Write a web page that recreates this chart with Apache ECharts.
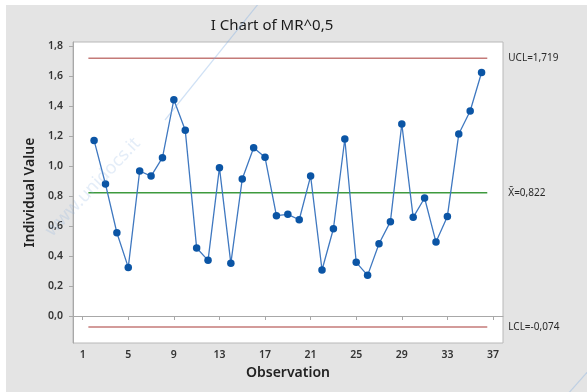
<!DOCTYPE html>
<html>
<head>
<meta charset="utf-8">
<script src="https://cdn.jsdelivr.net/npm/echarts@6/dist/echarts.min.js"></script>
<style>html,body{margin:0;padding:0;background:#fff}#c{width:587px;height:392px}</style>
</head>
<body>
<div id="c"></div>
<script>
// Observations and individual values (MR^0,5)
var observations = [2,3,4,5,6,7,8,9,10,11,12,13,14,15,16,17,18,19,20,21,22,23,24,25,26,27,28,29,30,31,32,33,34,35,36];
var values = [1.171,0.880,0.555,0.324,0.967,0.933,1.056,1.442,1.238,0.453,0.371,0.989,0.351,0.913,1.122,1.058,0.669,0.678,0.642,0.933,0.307,0.582,1.180,0.358,0.271,0.482,0.629,1.280,0.658,0.787,0.493,0.664,1.213,1.367,1.624];
var UCL = 1.719, CL = 0.822, LCL = -0.074;
var limitSpan = [1.5, 36.5];
var xTicks = [1,5,9,13,17,21,25,29,33,37];
var yTicks = [0,0.2,0.4,0.6,0.8,1.0,1.2,1.4,1.6,1.8];

var font = 'Noto Sans';
var comma = function(v, d){ return v.toFixed(d).replace('.', ','); };
var pts = observations.map(function(o, i){ return [o, values[i]]; });
function limitLine(val, color, text){
  return {
    type: 'line', data: [[limitSpan[0], val],[limitSpan[1], val]],
    symbol: 'none', silent: true,
    lineStyle: {color: color, width: 1.5},
    endLabel: {show: true, formatter: text, distance: 21, color: '#2a2a2a', fontFamily: font, fontSize: 10},
    z: 1
  };
}
var chart = echarts.init(document.getElementById('c'), null, {renderer: 'canvas'});
chart.setOption({
  backgroundColor: '#e4e4e4',
  animation: false,
  title: {
    text: 'I Chart of MR^0,5', left: 267, top: 13, textAlign: 'center',
    textStyle: {fontFamily: font, fontSize: 15, fontWeight: 'normal', color: '#1a1a1a'}
  },
  grid: {left: 73, right: 84, top: 42, bottom: 49, show: true, backgroundColor: '#fff', borderColor: '#b8b8b8', borderWidth: 1},
  xAxis: {
    type: 'value', min: 0.15, max: 37.88,
    name: 'Observation', nameLocation: 'middle', nameGap: 23,
    nameTextStyle: {fontFamily: font, fontSize: 14, fontWeight: 600, color: '#222'},
    axisLine: {show: true, lineStyle: {color: '#a8a8a8'}},
    axisTick: {show: true, length: 4, lineStyle: {color: '#a8a8a8'}, customValues: xTicks},
    axisLabel: {customValues: xTicks, formatter: function(v){ return String(Math.round(v)); }, margin: 7, fontFamily: font, fontSize: 10.5, fontWeight: 600, color: '#333'},
    splitLine: {show: false}
  },
  yAxis: {
    type: 'value', min: -0.18, max: 1.827,
    name: 'Individual Value', nameLocation: 'middle', nameGap: 34,
    nameTextStyle: {fontFamily: font, fontSize: 14, fontWeight: 600, color: '#222'},
    axisLine: {show: true, lineStyle: {color: '#a8a8a8'}},
    axisTick: {show: true, length: 4, lineStyle: {color: '#a8a8a8'}, customValues: yTicks},
    axisLabel: {customValues: yTicks, formatter: function(v){ return comma(v, 1); }, margin: 10, fontFamily: font, fontSize: 10.5, fontWeight: 600, color: '#333'},
    splitLine: {show: false}
  },
  graphic: [
    {type: 'rect', shape: {x: 0, y: 0, width: 587, height: 5}, style: {fill: '#fff'}, z: 100, silent: true},
    {type: 'rect', shape: {x: 0, y: 0, width: 6, height: 392}, style: {fill: '#fff'}, z: 100, silent: true},
    {type: 'line', shape: {x1: 263, y1: -2, x2: 165, y2: 120}, style: {stroke: 'rgba(120,170,225,0.35)', lineWidth: 1.2}, z: 50, silent: true},
    {type: 'line', shape: {x1: 590, y1: 369, x2: 567, y2: 395}, style: {stroke: 'rgba(120,170,225,0.35)', lineWidth: 1.2}, z: 50, silent: true},
    {type: 'text', x: 93, y: 187, rotation: Math.PI / 4 * 1.03, style: {text: 'www.unidocs.it', fontFamily: font, fontSize: 18, fill: 'rgba(130,175,225,0.22)', align: 'center', verticalAlign: 'middle'}, z: 50, silent: true}
  ],
  series: [
    limitLine(UCL, '#c47a78', 'UCL=' + comma(UCL, 3)),
    limitLine(CL, '#3e9a3e', 'X\u0304=' + comma(CL, 3)),
    limitLine(LCL, '#c47a78', 'LCL=' + comma(LCL, 3)),
    {
      type: 'line', data: pts, symbol: 'circle', symbolSize: 7.5,
      itemStyle: {color: '#0b55a5'},
      lineStyle: {color: '#3f78c0', width: 1.3},
      z: 3
    }
  ]
});
</script>
</body>
</html>
